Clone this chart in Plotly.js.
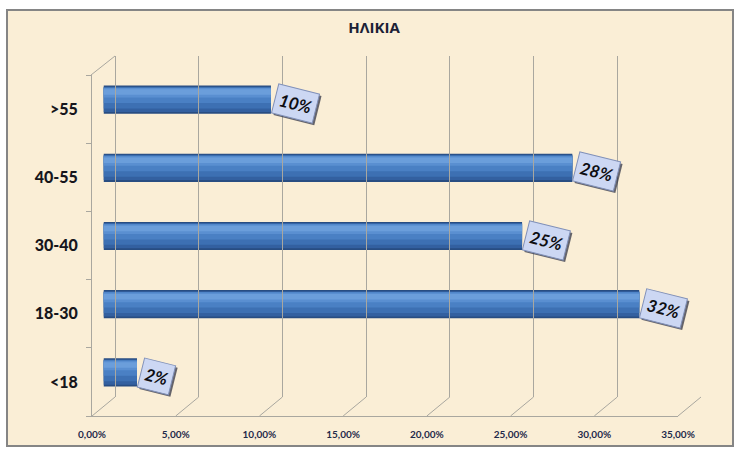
<!DOCTYPE html>
<html>
<head>
<meta charset="utf-8">
<script src="https://cdn.plot.ly/plotly-3.0.1.min.js"></script>
<style>html,body{margin:0;padding:0;background:#fff;}#chart{width:735px;height:450px;}</style>
</head>
<body>
<div id="chart"></div>
<script>
// ---- data ----
const chartTitle = 'ΗΛΙΚΙΑ';
const categories = ['<18', '18-30', '30-40', '40-55', '>55'];
const values = [0.02, 0.32, 0.25, 0.28, 0.10];
const valueLabels = ['2%', '32%', '25%', '28%', '10%'];
const xTickVals = [0, 0.05, 0.10, 0.15, 0.20, 0.25, 0.30, 0.35];
const xTickText = ['0,00%', '5,00%', '10,00%', '15,00%', '20,00%', '25,00%', '30,00%', '35,00%'];

// ---- geometry helpers (pixel -> paper) ----
const W = 735, H = 450;
const px = x => x / W;
const py = y => 1 - y / H;
const FRONT = {x0: 92, x1: 678, y0: 75, y1: 416};
const DX = 23, DY = -19;            // depth offset (back wall)
const MID = {dx: DX / 2, dy: DY / 2};
const XMAX = 0.35;
const gridColor = '#A9A79F';
const frontX = v => px(FRONT.x0 + v / XMAX * (FRONT.x1 - FRONT.x0));
const backX = v => px(FRONT.x0 + DX + v / XMAX * (FRONT.x1 - FRONT.x0));

const traces = [];
// invisible anchors so front/back axes draw
traces.push({type: 'scatter', x: [0], y: [categories[0]], xaxis: 'x', yaxis: 'y', mode: 'markers',
  marker: {opacity: 0}, hoverinfo: 'skip', showlegend: false});
traces.push({type: 'scatter', x: [0], y: [categories[0]], xaxis: 'x3', yaxis: 'y3', mode: 'markers',
  marker: {opacity: 0}, hoverinfo: 'skip', showlegend: false});

// cylinder-like bars: stacked bands
const bands = [
  {offset: -0.2065, width: 0.413, color: '#284D82'},
  {offset: -0.18, width: 0.37, color: '#3360A0'},
  {offset: -0.13, width: 0.31, color: '#3D70B3'},
  {offset: -0.05, width: 0.225, color: '#4A80C4'},
  {offset: 0.03, width: 0.14, color: '#5A8FD1'},
  {offset: 0.07, width: 0.08, color: '#6B9EDB'}
];
bands.forEach(b => {
  traces.push({type: 'bar', orientation: 'h', x: values, y: categories,
    xaxis: 'x2', yaxis: 'y2', offset: b.offset, width: b.width,
    marker: {color: b.color, line: {width: 0}}, hoverinfo: 'skip', showlegend: false});
});

// shapes
const shapes = [];
shapes.push({type: 'rect', xref: 'paper', yref: 'paper', x0: px(7), x1: px(733), y0: py(446), y1: py(10),
  fillcolor: '#FAEED6', line: {color: '#858585', width: 2}, layer: 'below'});
xTickVals.forEach(v => {
  shapes.push({type: 'line', xref: 'paper', yref: 'paper', x0: frontX(v), y0: py(FRONT.y1),
    x1: backX(v), y1: py(FRONT.y1 + DY), line: {color: gridColor, width: 1}, layer: 'below'});
});
shapes.push({type: 'line', xref: 'paper', yref: 'paper', x0: px(FRONT.x0 - 1), y0: py(FRONT.y0),
  x1: px(FRONT.x0 + DX), y1: py(FRONT.y0 + DY), line: {color: gridColor, width: 1}, layer: 'below'});

// value label boxes
const annotations = [];
values.forEach((v, i) => {
  annotations.push({x: v, y: categories[i], xref: 'x2', yref: 'y2', text: '<b><i>' + valueLabels[i] + '</i></b>',
    showarrow: false, xanchor: 'left', yanchor: 'middle', xshift: 2, yshift: -6, textangle: 14,
    font: {family: 'Lato, Open Sans, sans-serif', size: 17, color: 'rgba(0,0,0,0)'},
    bgcolor: 'rgba(35,40,60,0.7)', borderpad: 4});
  annotations.push({x: v, y: categories[i], xref: 'x2', yref: 'y2', text: '<b><i>' + valueLabels[i] + '</i></b>',
    showarrow: false, xanchor: 'left', yanchor: 'middle', xshift: 0, yshift: -4, textangle: 14,
    font: {family: 'Lato, Open Sans, sans-serif', size: 17, color: '#0E0E12'},
    bgcolor: '#CCD7F3', bordercolor: '#8090B8', borderwidth: 1, borderpad: 4});
});

const layout = {
  width: W, height: H,
  margin: {l: 0, r: 0, t: 0, b: 0},
  paper_bgcolor: '#FFFFFF', plot_bgcolor: 'rgba(0,0,0,0)',
  showlegend: false, barmode: 'overlay',
  title: {text: '<b>' + chartTitle + '</b>', x: px(374), xanchor: 'center', y: py(28), yanchor: 'middle',
    font: {family: 'Open Sans, sans-serif', size: 15, color: '#1B2136'}},
  xaxis: {domain: [px(FRONT.x0), px(FRONT.x1)], range: [0, XMAX], anchor: 'y',
    tickvals: xTickVals, ticktext: xTickText.map(t => '<b>' + t + '</b>'), showgrid: false, zeroline: false,
    showline: true, linecolor: gridColor, linewidth: 1, ticks: '', ticklabelstandoff: 9,
    tickfont: {family: 'Lato, Open Sans, sans-serif', size: 10, color: '#1F2A4A'}, fixedrange: true},
  yaxis: {domain: [py(FRONT.y1), py(FRONT.y0)], type: 'category', categoryorder: 'array', categoryarray: categories,
    range: [-0.5, categories.length - 0.5], anchor: 'x', showgrid: false, zeroline: false,
    showline: true, linecolor: gridColor, linewidth: 1, ticks: 'outside', tickson: 'boundaries',
    ticklen: 5, tickcolor: gridColor, ticklabelstandoff: 10,
    tickfont: {family: 'Lato, Open Sans, sans-serif', size: 16, color: '#16161C', weight: 900}, fixedrange: true},
  xaxis2: {domain: [px(FRONT.x0 + MID.dx), px(FRONT.x1 + MID.dx)], range: [0, XMAX], anchor: 'y2',
    visible: false, fixedrange: true},
  yaxis2: {domain: [py(FRONT.y1 + MID.dy), py(FRONT.y0 + MID.dy)], type: 'category', categoryorder: 'array',
    categoryarray: categories, range: [-0.5, categories.length - 0.5], anchor: 'x2', visible: false, fixedrange: true},
  xaxis3: {domain: [px(FRONT.x0 + DX), px(FRONT.x1 + DX)], range: [0, XMAX + 0.0002], anchor: 'y3',
    tickvals: xTickVals, showticklabels: false, showgrid: true, gridcolor: gridColor, gridwidth: 1,
    zeroline: true, zerolinecolor: gridColor, zerolinewidth: 1, showline: false, ticks: '', fixedrange: true},
  yaxis3: {domain: [py(FRONT.y1 + DY), py(FRONT.y0 + DY)], type: 'category', categoryorder: 'array',
    categoryarray: categories, range: [-0.5, categories.length - 0.5], anchor: 'x3',
    showgrid: false, zeroline: false, showline: false, showticklabels: false, ticks: '', fixedrange: true},
  shapes: shapes,
  annotations: annotations
};

Plotly.newPlot('chart', traces, layout, {displayModeBar: false, staticPlot: true});
</script>
</body>
</html>
